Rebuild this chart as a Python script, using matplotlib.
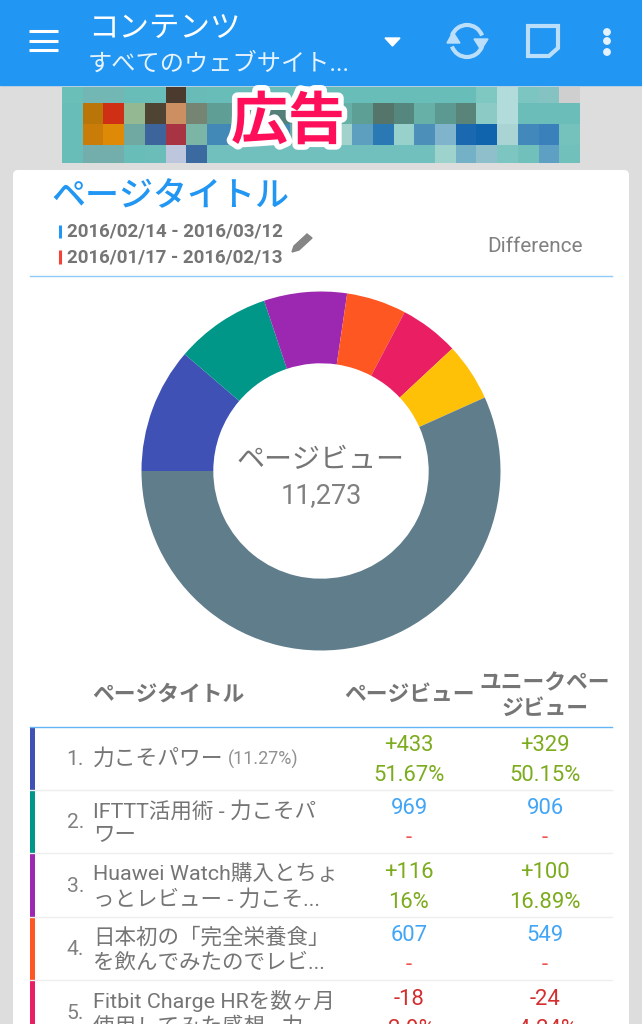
import numpy as np
import matplotlib
matplotlib.use('Agg')
import matplotlib.pyplot as plt
import matplotlib.patheffects as pe
from matplotlib.colors import to_rgb
from matplotlib.patches import Rectangle, FancyBboxPatch, Polygon, Circle, Arc

W, H = 642, 1024
JP = ['Roboto', 'Noto Sans CJK JP']

# donut data: pageviews per page, the last one is everything else
page_views = [1271, 969, 841, 607, 602, 590, 6393]
slice_colors = ['#3f51b5', '#009688', '#9c27b0', '#ff5722', '#e91e63', '#ffc107', '#607d8b']

# table
row_titles = [['力こそパワー'],
              ['IFTTT活用術 - 力こそパ', 'ワー'],
              ['Huawei Watch購入とちょ', 'っとレビュー - 力こそ...'],
              ['日本初の「完全栄養食」', 'を飲んでみたのでレビ...'],
              ['Fitbit Charge HRを数ヶ月', '使用してみた感想 - 力...']]
views_top = ['+433', '969', '+116', '607', '-18']
views_bottom = ['51.67%', '-', '16%', '-', '-2.9%']
unique_top = ['+329', '906', '+100', '549', '-24']
unique_bottom = ['50.15%', '-', '16.89%', '-', '-4.24%']
row_state = ['up', 'new', 'up', 'new', 'down']

# blurred advert mosaic
t = '#68bdb9'
ad_cells = [
    ['#6bbfb9', '#72b7b3', '#72b7b3', t, t, '#4b3a2e', '#69bbb8', t, t, t, t, t, t, t, t, t, t, t, t, t,
     '#7fc7c1', '#b2dcdb', '#7cc5c0', '#85c3c3', '#cfcfcf'],
    [t, '#b97508', '#cf2f14', '#94b892', '#4f4334', '#cb8f62', '#768573', '#5e9e94', '#5f9f96', '#5f9f96',
     '#55807a', '#5f9f96', '#5f9f96', '#66b0a8', '#5d9e95', '#55756a', '#56877f', '#66b0a8', '#5c9990', '#5a8379',
     '#8ccbc5', '#b2dcdb', '#6bbdb9', '#6bbdb9', '#6bbdb9'],
    [t, '#c97c08', '#df8a06', '#6fa9a2', '#3d659b', '#a83443', '#7ab5a6', '#4389b8', '#3f88bb', '#4389b8',
     '#4389b8', '#6fa9a2', '#6fa9a2', '#a2d2cc', '#5d9fbf', '#2a78b4', '#98d0cb', '#4c90ba', '#80b4cd', '#1a69b0',
     '#0f64ad', '#a9d4d3', '#4388ba', '#3a80ba', '#74c2bb'],
    [t, '#74aeac', '#74aeac', t, '#6bbdb9', '#bec6de', '#3a6aa0', '#72c0bd', '#72c0bd', '#72c0bd',
     '#72c0bd', '#72c0bd', '#72c0bd', '#72c0bd', '#72c0bd', '#72c0bd', '#72c0bd', '#72c0bd', '#9dd2cd', '#74b0c6',
     '#8fbfca', '#7cc5c0', '#72c0bb', '#5e9fc4', '#72c0bb'],
]

fig = plt.figure(figsize=(W / 100, H / 100), dpi=100, facecolor='#dddddd')
ax = fig.add_axes([0, 0, 1, 1])
ax.set_xlim(0, W)
ax.set_ylim(H, 0)
ax.axis('off')


def label(x, y, s, size, color='#757575', ha='left', weight='normal', **kw):
    return ax.text(x, y, s, fontsize=size * 0.72, color=color, ha=ha, va='center',
                   family=JP, fontweight=weight, **kw)


# header bar
ax.add_patch(Rectangle((0, 0), W, 85, color='#2196f3', zorder=1))
for y in [31, 41, 50]:
    ax.plot([29, 58], [y, y], color='white', lw=2.2, zorder=2, solid_capstyle='butt')
label(88, 29, 'コンテンツ', 30.5, color='white', zorder=3)
label(88, 64, 'すべてのウェブサイト...', 24.2, color='#e6f3fe', zorder=3)
ax.add_patch(Polygon([[385, 38], [400, 38], [392.5, 46]], color='white', zorder=3))

icon = '#bbdefb'
ax.add_patch(Arc((467, 41), 32, 32, theta1=200, theta2=340, color=icon, lw=3, zorder=3))
ax.add_patch(Arc((467, 41), 32, 32, theta1=20, theta2=160, color=icon, lw=3, zorder=3))
ax.add_patch(Polygon([[447, 43], [460, 43], [453, 32]], color=icon, zorder=3))
ax.add_patch(Polygon([[474, 39], [488, 39], [481, 50]], color=icon, zorder=3))
ax.add_patch(Polygon([[528, 26], [558, 26], [558, 48], [549, 56], [528, 56]], fc='none', ec=icon, lw=3, zorder=3))
for y in [32, 41, 52]:
    ax.add_patch(Circle((607, y), 3.2, color='#e3f2fd', zorder=3))

# advert placeholder
x_edges = 62 + 20.72 * np.arange(26)
y_edges = [87, 103, 124, 145, 163]
ad_rgb = np.array([[to_rgb(c) for c in row] for row in ad_cells])
ax.pcolormesh(x_edges, y_edges, ad_rgb, zorder=1)
ax.set_xlim(0, W)
ax.set_ylim(H, 0)
ad = ax.text(288, 122, '広告', fontsize=41, color='#ff0f5a', ha='center', va='center',
             family='Noto Sans CJK JP', fontweight='bold', zorder=4)
ad.set_path_effects([pe.withStroke(linewidth=8, foreground='white')])

# card
ax.add_patch(FancyBboxPatch((13, 170), 616, 900, boxstyle='round,pad=0,rounding_size=5',
                            fc='white', ec='none', zorder=1))
label(51, 197, 'ページタイトル', 34, color='#2196f3', weight='medium', zorder=3)
ax.plot([59.5, 59.5], [225, 238], color='#2196f3', lw=2.2, zorder=3, solid_capstyle='butt')
ax.plot([59.5, 59.5], [250, 264], color='#f44336', lw=2.2, zorder=3, solid_capstyle='butt')
label(67, 232, '2016/02/14 - 2016/03/12', 18.8, weight='bold', zorder=3)
label(67, 257, '2016/01/17 - 2016/02/13', 18.8, weight='bold', zorder=3)
ax.add_patch(Polygon([[292, 252], [294, 246], [307, 234], [312, 238], [299, 250]], color='#858585', zorder=3))
label(487, 247, 'Difference', 20.8, color='#808080', zorder=3)
ax.plot([30, 612], [276, 276], color='#90caf9', lw=1, zorder=3)

# donut
cx, cy, r = 321, 471, 179.5
pie_ax = fig.add_axes([(cx - r) / W, 1 - (cy + r) / H, 2 * r / W, 2 * r / H])
pie_ax.pie(page_views, colors=slice_colors, startangle=180, counterclock=False, radius=1,
           wedgeprops={'width': 0.4, 'linewidth': 0})
pie_ax.set_xlim(-1, 1)
pie_ax.set_ylim(-1, 1)
pie_ax.patch.set_alpha(0)
label(321, 461, 'ページビュー', 28, ha='center', zorder=3)
label(321, 496, '11,273', 27, ha='center', zorder=3, color='#808080')

# table header
label(92, 695, 'ページタイトル', 21.8, weight='bold', zorder=3)
label(409, 695, 'ページビュー', 21.8, ha='center', weight='bold', zorder=3)
label(545, 683, 'ユニークペー', 21.8, ha='center', weight='bold', zorder=3)
label(545, 709, 'ジビュー', 21.8, ha='center', weight='bold', zorder=3)
ax.plot([30, 612], [726.5, 726.5], color='#64b5f6', lw=1, zorder=3)

# table rows
state_colors = {'up': ('#7cab1e', '#7cab1e'), 'new': ('#42a5f5', '#ef5350'), 'down': ('#d32f2f', '#d32f2f')}
row_h = 63.4
for i, lines in enumerate(row_titles):
    top = 726.5 + i * row_h
    ax.add_patch(Rectangle((30, top), 5, row_h, color=slice_colors[i], lw=0, zorder=2))
    if i > 0:
        ax.plot([30, 612], [top, top], color='#eeeeee', lw=1, zorder=2)
    label(84, top + 33, f'{i + 1}.', 21, color='#808080', ha='right', zorder=3)
    if len(lines) == 1:
        label(93, top + 33, lines[0], 21.8, zorder=3)
        label(228, top + 33, '(11.27%)', 18, color='#909090', zorder=3)
    else:
        label(93, top + 21, lines[0], 21.5, zorder=3)
        label(93, top + 46, lines[1], 21.5, zorder=3)
    c1, c2 = state_colors[row_state[i]]
    for x, a, b in [(409, views_top[i], views_bottom[i]), (545, unique_top[i], unique_bottom[i])]:
        label(x, top + 19, a, 22, color=c1, ha='center', zorder=3)
        label(x, top + 49, b, 22, color=c2, ha='center', zorder=3)

fig.savefig('out.png', dpi=100, facecolor=fig.get_facecolor())
